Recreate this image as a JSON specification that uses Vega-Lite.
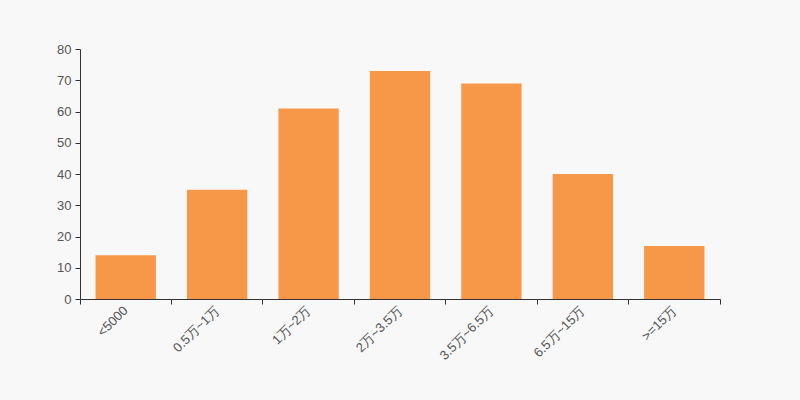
{
  "$schema": "https://vega.github.io/schema/vega-lite/v6.json",
  "width": 640,
  "height": 250,
  "autosize": {"type": "none"},
  "padding": {"left": 80, "top": 49, "right": 80, "bottom": 101},
  "background": "#f8f8f8",
  "config": {"view": {"stroke": null}, "font": "Liberation Sans"},
  "data": {"values": [
    {"range": "<5000", "count": 14},
    {"range": "0.5万~1万", "count": 35},
    {"range": "1万~2万", "count": 61},
    {"range": "2万~3.5万", "count": 73},
    {"range": "3.5万~6.5万", "count": 69},
    {"range": "6.5万~15万", "count": 40},
    {"range": ">=15万", "count": 17}
  ]},
  "mark": {"type": "bar", "color": "#f79849", "width": {"band": 0.66}},
  "encoding": {
    "x": {
      "field": "range", "type": "nominal", "sort": null,
      "scale": {"paddingInner": 0, "paddingOuter": 0},
      "axis": {
        "title": null, "labelAngle": -45, "labelAlign": "right", "labelBaseline": "middle",
        "labelFontSize": 13, "labelColor": "#555", "domainColor": "#333", "tickColor": "#333",
        "tickSize": 5, "bandPosition": 1, "tickExtra": true, "labelPadding": 4, "grid": false
      }
    },
    "y": {
      "field": "count", "type": "quantitative",
      "scale": {"domain": [0, 80], "nice": false},
      "axis": {
        "title": null, "values": [0,10,20,30,40,50,60,70,80], "grid": false,
        "labelFontSize": 13, "labelColor": "#555", "domainColor": "#333", "tickColor": "#333",
        "tickSize": 5, "labelPadding": 4
      }
    }
  }
}
